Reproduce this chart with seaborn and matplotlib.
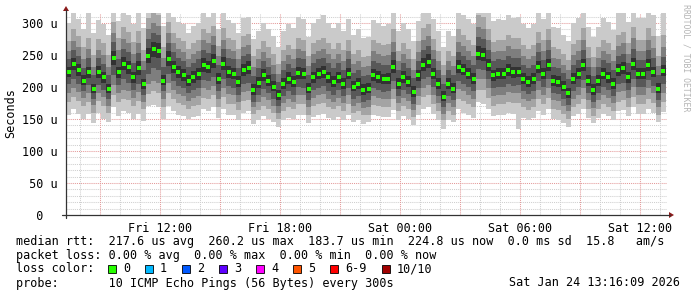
import numpy as np
import pandas as pd
import matplotlib
matplotlib.use("Agg")
import matplotlib.pyplot as plt
import matplotlib.patches as mpatches
from matplotlib.lines import Line2D
import seaborn as sns

# ---------------- data ----------------
start_time = "2026-01-23 07:18"
n_steps = 120          # 15-minute consolidated steps

median = [223,236,226,210,223,197,223,215,197,246,223,236,231,215,229,205,249,259,257,210,
          244,231,223,218,210,215,220,234,231,240,213,236,223,220,208,226,229,195,207,218,
          210,200,187,205,213,208,222,220,197,215,220,223,215,208,215,205,220,200,205,195,
          197,218,215,212,213,231,205,215,208,192,218,234,239,220,205,184,205,197,231,226,
          220,213,252,250,234,218,220,220,226,223,223,213,208,213,231,220,234,210,208,200,
          190,213,220,234,210,195,210,220,215,205,226,229,215,236,220,220,234,223,197,225]

p5 = [215,226,217,203,214,190,214,207,190,234,214,226,221,207,219,197,237,247,245,203,
      233,222,214,210,202,206,211,224,222,229,205,226,214,212,200,217,220,188,199,209,
      202,193,180,197,205,200,213,212,190,207,212,214,207,200,207,197,212,193,197,188,
      190,210,207,204,205,222,197,207,200,185,210,225,230,212,197,178,197,190,222,218,
      212,205,242,240,225,210,212,212,217,214,215,205,200,205,222,212,225,202,200,193,
      183,205,212,225,202,188,202,212,207,197,217,220,207,227,212,212,225,215,190,217]
p6 = [231,246,236,218,232,205,233,224,205,257,232,247,241,224,240,213,261,271,268,219,
      256,241,233,228,219,225,230,245,241,252,222,247,233,230,217,236,240,204,216,228,
      219,209,196,214,223,217,232,230,206,224,230,233,224,217,224,214,230,209,214,204,
      206,228,225,221,222,242,214,225,217,201,227,245,251,230,214,193,214,206,242,236,
      229,222,264,261,244,227,230,229,236,232,232,222,217,222,241,229,244,219,217,209,
      199,222,229,244,219,204,219,229,224,214,236,239,224,246,229,229,244,232,206,234]
p4 = [204,213,205,194,203,181,203,196,181,219,203,212,207,195,205,187,220,229,226,193,
      220,209,202,198,190,195,198,211,210,216,193,213,201,199,188,205,207,177,188,197,
      190,182,170,186,193,188,200,199,179,195,199,201,194,188,195,186,199,182,186,177,
      179,198,195,192,193,209,186,195,189,174,198,212,216,200,186,168,186,179,209,205,
      200,194,228,226,212,198,200,200,205,202,203,194,189,194,209,200,212,191,189,182,
      172,193,200,211,190,177,190,200,195,186,204,207,195,213,200,200,211,202,179,204]
p7 = [243,258,248,230,245,218,245,236,218,270,244,260,254,237,253,226,275,285,281,231,
      269,254,246,241,231,238,243,258,253,265,235,260,246,243,229,249,252,217,229,241,
      232,221,208,227,236,230,245,243,219,237,243,246,237,230,237,227,243,222,227,217,
      219,241,238,234,235,255,227,238,230,214,240,258,264,243,227,205,227,219,255,249,
      242,235,278,275,258,240,243,242,249,245,245,235,230,235,254,242,258,232,230,222,
      212,235,242,258,232,217,232,242,237,227,249,252,237,260,242,242,258,246,219,247]
p3 = [191,198,192,183,190,172,191,184,171,203,190,196,193,183,192,177,204,210,207,181,
      206,196,189,186,178,183,186,198,196,202,181,199,189,187,176,192,194,168,176,185,
      179,171,160,175,181,177,188,187,168,183,187,189,182,177,183,175,187,171,175,167,
      169,186,183,181,182,197,175,183,178,164,186,199,203,188,175,158,175,169,197,193,
      188,182,213,212,199,186,188,188,192,190,190,182,178,182,196,188,199,179,178,171,
      162,182,188,198,179,167,179,188,183,175,192,194,183,200,188,188,198,190,169,191]
p8 = [256,272,262,244,259,232,258,250,232,284,258,275,268,251,268,240,290,300,296,245,
      284,268,260,255,244,252,257,273,268,279,248,274,260,257,243,263,266,231,243,255,
      246,235,221,241,250,244,259,257,233,251,257,260,251,244,251,241,257,236,241,231,
      233,256,252,248,250,271,241,252,244,227,255,274,280,258,241,219,241,233,271,264,
      257,249,294,291,273,254,257,256,264,259,260,249,244,249,269,257,273,246,244,235,
      226,250,257,274,246,231,246,257,252,241,264,268,252,276,257,257,274,261,233,263]
p2 = [177,184,178,170,177,160,178,170,160,188,176,182,179,170,178,165,189,194,190,168,
      190,181,175,172,165,170,172,183,181,187,168,184,174,173,164,178,180,158,164,171,
      166,159,150,163,168,165,174,173,157,170,173,175,169,165,170,163,173,160,163,156,
      157,172,170,168,169,182,163,170,165,153,172,184,188,174,163,148,163,157,182,178,
      173,168,196,195,183,171,173,173,177,175,175,168,164,168,181,173,183,165,164,158,
      150,168,173,182,165,155,165,173,169,162,177,179,169,184,173,173,182,175,157,176]
p9 = [272,290,280,262,277,250,275,268,250,302,276,293,286,270,287,258,308,315,312,263,
      302,285,276,272,260,268,274,290,285,296,264,292,277,274,260,280,283,248,260,272,
      262,251,236,258,266,260,276,274,249,268,274,277,268,260,268,258,274,252,258,247,
      249,273,269,265,267,290,257,269,260,243,272,292,298,275,257,234,257,249,290,282,
      274,266,312,310,291,271,274,273,281,276,277,266,260,266,286,274,291,262,260,251,
      242,267,274,292,262,247,262,274,269,258,282,286,269,294,274,274,292,279,249,281]
p1 = [157,165,158,150,158,143,160,150,145,168,155,163,160,150,158,147,170,172,168,150,
      170,162,157,155,150,153,155,165,162,168,152,166,157,156,148,160,162,142,148,154,
      150,145,138,148,152,150,157,156,143,153,156,158,152,149,153,148,156,145,148,142,
      145,156,154,153,153,164,149,154,150,140,156,166,169,158,149,135,149,145,165,160,
      156,152,176,174,165,155,156,156,160,158,134,152,148,152,163,156,165,150,148,143,
      138,154,158,166,152,143,152,158,155,149,162,164,155,168,158,158,166,160,145,161]
p10 = [300,315,306,290,315,285,305,298,282,315,303,315,312,298,315,292,315,315,315,295,
       315,310,302,298,285,295,300,315,310,315,290,315,305,300,285,308,310,275,288,300,
       290,280,262,288,298,292,310,306,278,300,306,312,300,292,300,288,306,282,290,276,
       278,305,300,296,298,315,288,300,290,272,303,315,315,307,288,262,288,280,315,312,
       306,298,315,315,315,303,306,305,313,308,309,298,292,298,315,306,315,294,292,282,
       272,300,308,315,294,278,294,308,302,289,315,315,302,315,308,308,315,312,280,315]

x_tick_times = ["2026-01-23 12:00", "2026-01-23 18:00", "2026-01-24 00:00",
                "2026-01-24 06:00", "2026-01-24 12:00"]
x_tick_labels = ["Fri 12:00", "Fri 18:00", "Sat 00:00", "Sat 06:00", "Sat 12:00"]
y_tick_values = [0, 50, 100, 150, 200, 250, 300]
y_tick_labels = ["  0  ", " 50 u", "100 u", "150 u", "200 u", "250 u", "300 u"]

legend_lines = [
    "median rtt:  217.6 us avg  260.2 us max  183.7 us min  224.8 us now  0.0 ms sd  15.8   am/s",
    "packet loss: 0.00 % avg  0.00 % max  0.00 % min  0.00 % now",
]
loss_labels = ["0", "1", "2", "3", "4", "5", "6-9", "10/10"]
loss_colors = ["#26ff00", "#00b8ff", "#0059ff", "#5e00ff", "#ff00ff", "#ff5500", "#ff0000", "#a10000"]
probe_text = "probe:       10 ICMP Echo Pings (56 Bytes) every 300s"
date_text = "Sat Jan 24 13:16:09 2026"

# ---------------- figure ----------------
sns.set_theme(style="white")
plt.rcParams["font.family"] = ["DejaVu Sans Mono"]
FS = 8.5
W, H = 697, 297
fig = plt.figure(figsize=(W / 100, H / 100), dpi=100)
fig.patch.set_facecolor("white")

L, R, T, B = 66, 667, 13, 215
ax = fig.add_axes([L / W, (H - B) / H, (R - L) / W, (B - T) / H])
ax.set_facecolor("white")

times = pd.date_range(start_time, periods=n_steps + 1, freq="15min")
t_mid = times[:-1] + pd.Timedelta(minutes=7.5)

def ext(a):
    return list(a) + [a[-1]]

bands = [(p1, p10, "#cacaca"), (p2, p9, "#a4a4a4"), (p3, p8, "#7e7e7e"),
         (p4, p7, "#585858"), (p5, p6, "#323232")]
for k, (lo, hi, col) in enumerate(bands):
    ax.fill_between(times, ext(lo), ext(hi), step="post", color=col, lw=0, zorder=2 + k * 0.1)

df = pd.DataFrame({"time": t_mid, "median": median})
sns.scatterplot(data=df, x="time", y="median", marker="s", s=7, linewidth=0,
                color="#26ff00", ax=ax, zorder=5, legend=False)

x0 = pd.Timestamp("2026-01-23 07:18")
x1 = pd.Timestamp("2026-01-24 13:21")
ax.set_xlim(x0, x1)
ax.set_ylim(0, (B - T) / 0.64)

# grid (rrdtool style, dotted) behind the smoke
minor_c, major_c = "#cfcfcf", "#e49a9a"
for yv in range(10, 316, 10):
    c = major_c if yv % 50 == 0 else minor_c
    ax.axhline(yv, color=c, lw=0.75, ls=(0, (1, 1)), zorder=1)
hours = pd.date_range("2026-01-23 08:00", "2026-01-24 13:00", freq="1h")
for h in hours:
    c = major_c if h.hour % 3 == 0 else minor_c
    ax.axvline(h, color=c, lw=0.75, ls=(0, (1, 1)), zorder=1)

for s in ax.spines.values():
    s.set_visible(False)
ax.set_xticks(pd.to_datetime(x_tick_times))
ax.set_xticklabels(x_tick_labels, fontsize=FS)
ax.set_xticks(hours, minor=True)
ax.set_yticks(y_tick_values)
ax.set_yticklabels(y_tick_labels, fontsize=FS)
ax.set_yticks(range(0, 316, 10), minor=True)
ax.tick_params(axis="x", which="both", direction="out", length=2, width=0.8,
               color="#333333", pad=3, labelcolor="black")
ax.tick_params(axis="y", which="major", direction="out", length=3, width=0.8,
               color="#333333", pad=3, labelcolor="black")
ax.tick_params(axis="y", which="minor", direction="out", length=2, width=0.8, color="#333333")
ax.set_xlabel("")
ax.set_ylabel("")

# overlay in pixel coordinates for axis lines, arrows and text
ov = fig.add_axes([0, 0, 1, 1], facecolor="none")
ov.set_xlim(0, W)
ov.set_ylim(H, 0)
ov.axis("off")
ov.add_line(Line2D([62, 670], [B, B], color="#333333", lw=0.9))
ov.add_line(Line2D([L, L], [B + 3, 10], color="#333333", lw=0.9))
ov.add_patch(mpatches.Polygon([[669, B - 3], [669, B + 3], [674, B]], closed=True,
                              color="#8b1a1a", lw=0))
ov.add_patch(mpatches.Polygon([[L - 3, 11], [L + 3, 11], [L, 6]], closed=True,
                              color="#8b1a1a", lw=0))

ov.text(11, 113, "Seconds", rotation=90, ha="center", va="center", fontsize=FS, color="black")
ov.text(686, 4, "RRDTOOL / TOBI OETIKER", rotation=-90, ha="center", va="top",
        fontsize=5.9, color="#b4b4b4")

ov.text(16, 241, legend_lines[0], ha="left", va="center", fontsize=FS, color="black")
ov.text(16, 255, legend_lines[1], ha="left", va="center", fontsize=FS, color="black")
ov.text(16, 269, "loss color:", ha="left", va="center", fontsize=FS, color="black")
sq_x = [108, 145, 182, 219, 256, 293, 330, 382]
for xs, lab, col in zip(sq_x, loss_labels, loss_colors):
    ov.add_patch(mpatches.Rectangle((xs, 265), 8, 8, facecolor=col, edgecolor="black", lw=0.6))
    ov.text(xs + 15, 269, lab, ha="left", va="center", fontsize=FS, color="black")
ov.text(16, 283, probe_text, ha="left", va="center", fontsize=FS, color="black")
ov.text(680, 283, date_text, ha="right", va="center", fontsize=FS, color="black")

fig.savefig("out.png", dpi=100, facecolor="white")
